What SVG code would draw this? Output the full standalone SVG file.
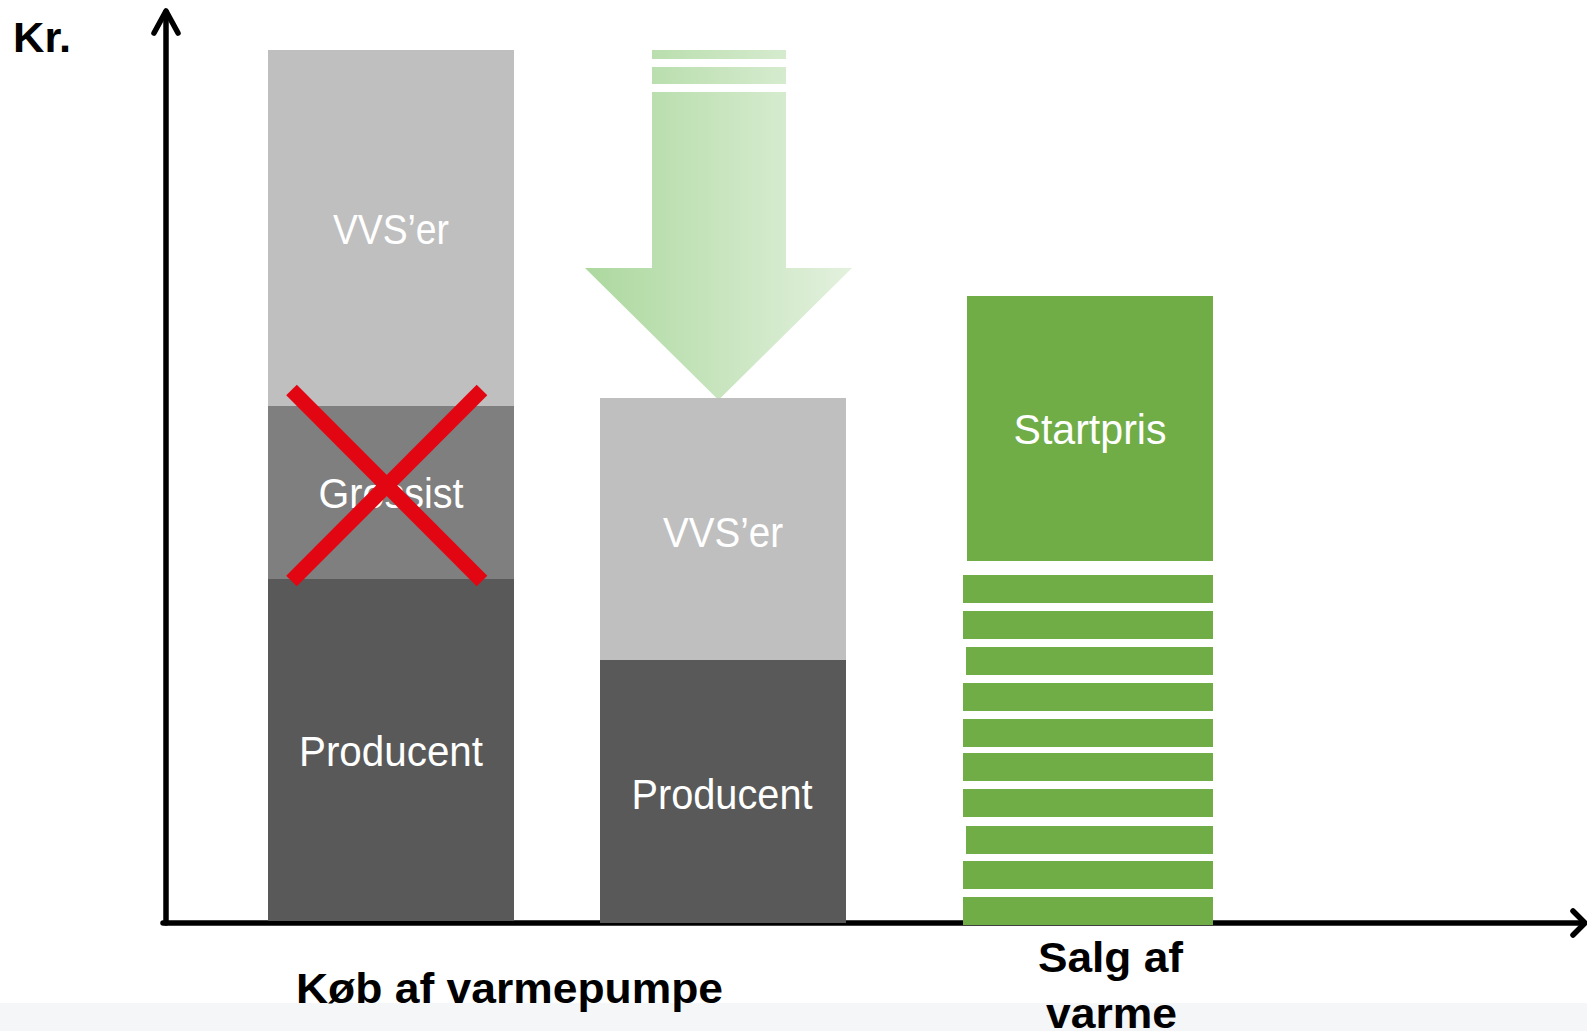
<svg xmlns="http://www.w3.org/2000/svg" width="1587" height="1031" viewBox="0 0 1587 1031">
  <style>
    .lbl { font-family: "Liberation Sans", Arial, sans-serif; font-size: 42px; fill: #ffffff; text-anchor: middle; }
    .ax { font-family: "Liberation Sans", Arial, sans-serif; font-weight: bold; font-size: 42px; fill: #000000; }
    .light { fill: #bfbfbf; }
    .mid { fill: #7f7f7f; }
    .dark { fill: #595959; }
    .green { fill: #70ad47; }
    .axis { stroke: #000000; stroke-width: 5.5; fill: none; stroke-linecap: round; stroke-linejoin: round; }
  </style>
  <defs>
    <linearGradient id="fade" gradientUnits="userSpaceOnUse" x1="585" y1="0" x2="852" y2="0">
      <stop offset="0" stop-color="#acd89e"/>
      <stop offset="1" stop-color="#e3f1de"/>
    </linearGradient>
  </defs>

  <rect x="0" y="0" width="1587" height="1031" fill="#ffffff"/>
  <rect x="0" y="1003" width="1587" height="28" fill="#f5f6f8"/>

  <!-- axes (bars sit on top of the baseline) -->
  <g id="axes">
    <path class="axis" d="M166 923 V12"/>
    <path class="axis" d="M154 33 L166 11 L178 33"/>
    <path class="axis" d="M163 923 H1584"/>
    <path class="axis" d="M1573 911 L1585 923 L1573 935"/>
  </g>

  <!-- bar 1: purchase chain with wholesaler -->
  <g id="bar-koeb-1">
    <rect class="light" x="268" y="50" width="246" height="356"/>
    <rect class="mid" x="268" y="406" width="246" height="173"/>
    <rect class="dark" x="268" y="579" width="246" height="342"/>
    <text class="lbl" x="391" y="244" textLength="116" lengthAdjust="spacingAndGlyphs">VVS’er</text>
    <text class="lbl" x="391" y="508" textLength="145" lengthAdjust="spacingAndGlyphs">Grossist</text>
    <text class="lbl" x="391" y="766" textLength="184" lengthAdjust="spacingAndGlyphs">Producent</text>
  </g>

  <!-- red cross over the wholesaler -->
  <g id="cross" stroke="#e20613" stroke-width="15" stroke-linecap="butt">
    <line x1="291.5" y1="390" x2="482" y2="581"/>
    <line x1="482" y1="390" x2="291.5" y2="581"/>
  </g>

  <!-- price reduction arrow -->
  <g id="down-arrow" fill="url(#fade)">
    <rect x="652" y="50" width="134" height="9"/>
    <rect x="652" y="67" width="134" height="17"/>
    <polygon points="652,92 786,92 786,268 852,268 718.5,400 585,268 652,268"/>
  </g>

  <!-- bar 2: purchase chain without wholesaler -->
  <g id="bar-koeb-2">
    <rect class="light" x="600" y="398" width="246" height="262"/>
    <rect class="dark" x="600" y="660" width="246" height="263"/>
    <text class="lbl" x="723" y="547" textLength="120" lengthAdjust="spacingAndGlyphs">VVS’er</text>
    <text class="lbl" x="722" y="809" textLength="181" lengthAdjust="spacingAndGlyphs">Producent</text>
  </g>

  <!-- bar 3: heat sales -->
  <g id="bar-salg">
    <rect class="green" x="967" y="296" width="246" height="265"/>
    <text class="lbl" x="1090" y="444" textLength="153" lengthAdjust="spacingAndGlyphs">Startpris</text>
    <rect class="green" x="963" y="575" width="250" height="28"/>
    <rect class="green" x="963" y="611" width="250" height="28"/>
    <rect class="green" x="966" y="647" width="247" height="28"/>
    <rect class="green" x="963" y="683" width="250" height="28"/>
    <rect class="green" x="963" y="719" width="250" height="28"/>
    <rect class="green" x="963" y="753" width="250" height="28"/>
    <rect class="green" x="963" y="789" width="250" height="28"/>
    <rect class="green" x="966" y="826" width="247" height="28"/>
    <rect class="green" x="963" y="861" width="250" height="28"/>
    <rect class="green" x="963" y="897" width="250" height="28"/>
  </g>

  <g id="axis-labels">
    <text class="ax" x="13" y="52" textLength="58" lengthAdjust="spacingAndGlyphs">Kr.</text>
    <text class="ax" x="296" y="1003" textLength="427" lengthAdjust="spacingAndGlyphs">Køb af varmepumpe</text>
    <text class="ax" x="1038" y="972" textLength="145" lengthAdjust="spacingAndGlyphs">Salg af</text>
    <text class="ax" x="1046" y="1028" textLength="131" lengthAdjust="spacingAndGlyphs">varme</text>
  </g>
</svg>
